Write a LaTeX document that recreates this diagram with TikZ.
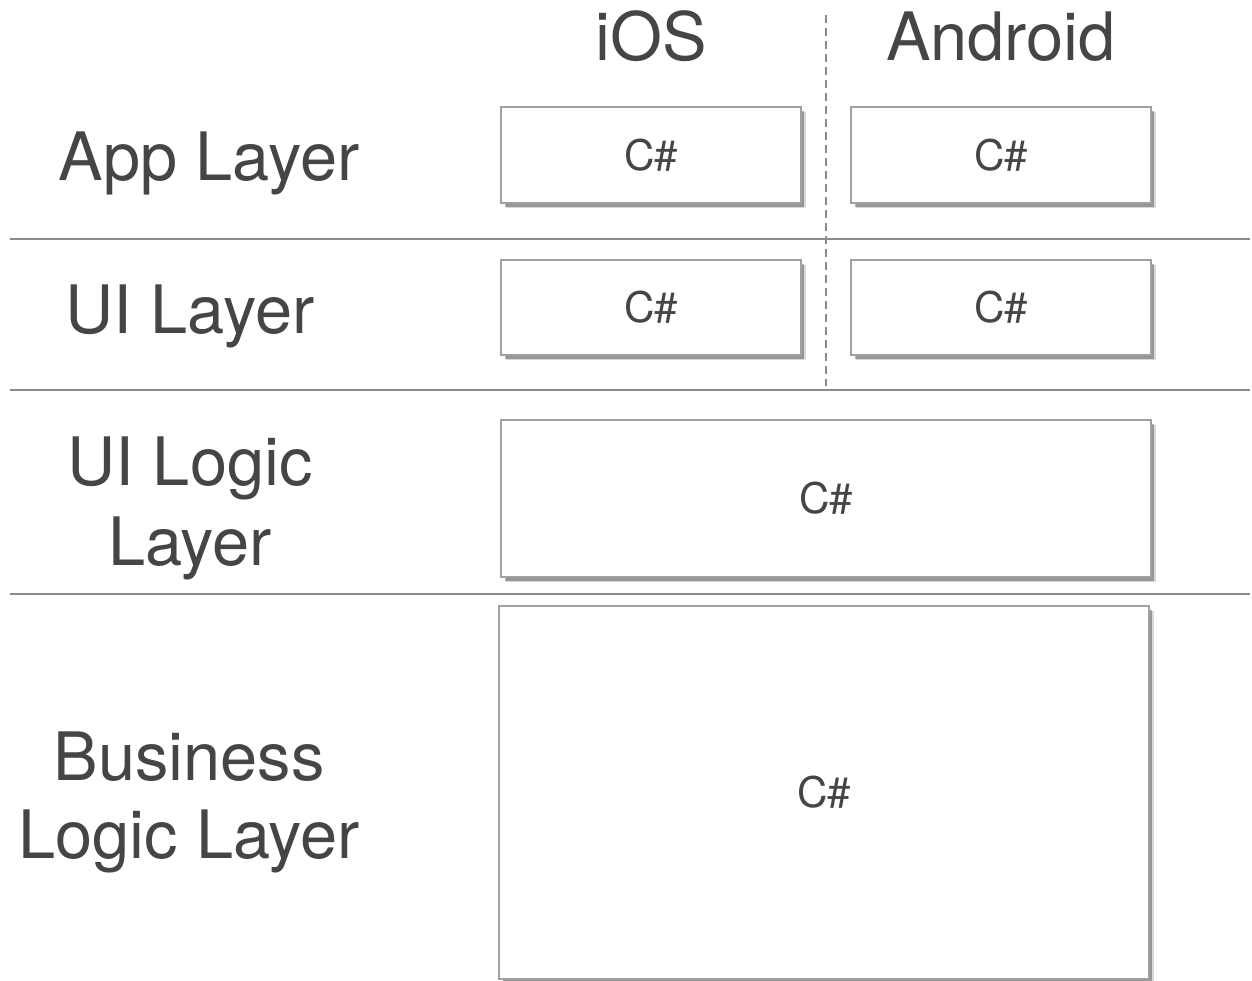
\documentclass[tikz,border=0pt]{standalone}
\usepackage{fontspec}
\setmainfont{TeX Gyre Heros}
\usetikzlibrary{shadows}
\definecolor{txt}{HTML}{454545}
\definecolor{rule}{HTML}{8A8A8A}
\definecolor{boxline}{HTML}{A0A0A0}
\tikzset{
  big/.style={text=txt, font=\fontsize{38}{46}\selectfont, inner sep=0pt, align=center},
  csharp/.style={text=txt, font=\fontsize{24}{28}\selectfont},
  layerbox/.style={draw=boxline, line width=1.1pt, fill=white, inner sep=0pt,
    drop shadow={shadow xshift=3pt, shadow yshift=-3pt, fill=black, opacity=0.15},
    drop shadow={shadow xshift=2pt, shadow yshift=-2pt, fill=black, opacity=0.3}},
  sep/.style={draw=rule, line width=1.5pt},
  divider/.style={draw=rule, line width=1.5pt, dash pattern=on 0.16cm off 0.1cm}
}
\begin{document}
\begin{tikzpicture}[x=0.02cm, y=-0.02cm]
\useasboundingbox[fill=white] (0,0) rectangle (1252,981);
% separators
\coordinate (s1l) at (10,239); \coordinate (s1r) at (1250,239);
\coordinate (s2l) at (10,390); \coordinate (s2r) at (1250,390);
\coordinate (s3l) at (10,594); \coordinate (s3r) at (1250,594);
\draw[sep] (s1l) -- (s1r);
\draw[sep] (s2l) -- (s2r);
\draw[sep] (s3l) -- (s3r);
\coordinate (dtop) at (826,15); \coordinate (dbot) at (826,386);
\draw[divider] (dtop) -- (dbot);
% headers
\node[big, anchor=base] (ios) at (651,60) {iOS};
\node[big, anchor=base] (android) at (1001,60) {Android};
% layer labels
\node[big, anchor=base] (app) at (209,180) {App Layer};
\node[big, anchor=base] (ui) at (190,333) {UI Layer};
\node[big, anchor=base] (uil1) at (190,485) {UI Logic};
\node[big, anchor=base] (uil2) at (190,565) {Layer};
\node[big, anchor=base] (bl1) at (189,780) {Business};
\node[big, anchor=base] (bl2) at (189,858) {Logic Layer};
% boxes
\node[layerbox, minimum width=6cm, minimum height=1.92cm] (appios) at (651,155) {};
\node[layerbox, minimum width=6cm, minimum height=1.92cm] (appand) at (1001,155) {};
\node[layerbox, minimum width=6cm, minimum height=1.9cm] (uiios) at (651,307.5) {};
\node[layerbox, minimum width=6cm, minimum height=1.9cm] (uiand) at (1001,307.5) {};
\node[layerbox, minimum width=13cm, minimum height=3.14cm] (uilogic) at (826,498.5) {};
\node[layerbox, minimum width=13cm, minimum height=7.46cm] (business) at (824,792.5) {};
\node[csharp] (t1) at (appios) {C\#};
\node[csharp] (t2) at (appand) {C\#};
\node[csharp] (t3) at (uiios) {C\#};
\node[csharp] (t4) at (uiand) {C\#};
\node[csharp] (t5) at (uilogic) {C\#};
\node[csharp] (t6) at (business) {C\#};
\end{tikzpicture}
\end{document}
